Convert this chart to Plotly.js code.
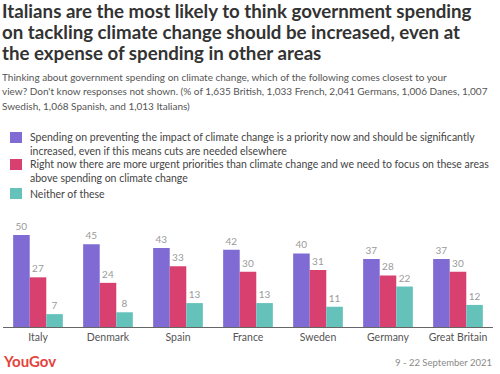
<!DOCTYPE html>
<html>
<head>
<meta charset="utf-8">
<script src="https://cdn.plot.ly/plotly-3.0.1.min.js"></script>
<style>html,body{margin:0;padding:0;background:#fff}#chart{width:500px;height:374px}</style>
</head>
<body>
<div id="chart"></div>
<script>
const countries = ["Italy", "Denmark", "Spain", "France", "Sweden", "Germany", "Great Britain"];
const seriesNames = [
  "Spending on preventing the impact of climate change is a priority now and should be significantly<br>increased, even if this means cuts are needed elsewhere",
  "Right now there are more urgent priorities than climate change and we need to focus on these areas<br>above spending on climate change",
  "Neither of these"
];
const increaseSpending = [50, 45, 43, 42, 40, 37, 37];
const otherPriorities = [27, 24, 33, 30, 31, 28, 30];
const neither = [7, 8, 13, 13, 11, 22, 12];
const colors = ["#7f6bd3", "#d8416f", "#65c2bb"];

const titleLines = [
  "Italians are the most likely to think government spending",
  "on tackling climate change should be increased, even at",
  "the expense of spending in other areas"
];
const subtitleLines = [
  "Thinking about government spending on climate change, which of the following comes closest to your",
  "view? Don't know responses not shown. (% of 1,635 British, 1,033 French, 2,041 Germans, 1,006 Danes, 1,007",
  "Swedish, 1,068 Spanish, and 1,013 Italians)"
];
const dateText = "9 - 22 September 2021";
const brand = "YouGov";

const FONT = "Lato, 'Open Sans', sans-serif";
const L = 3, R = 7, T = 215, B = 47, W = 500 - L - R, H = 374 - T - B;
const px = x => (x - L) / W;
const py = y => (374 - B - y) / H;

const values = [increaseSpending, otherPriorities, neither];
const traces = values.map((v, i) => ({
  type: "bar",
  name: seriesNames[i].replace("<br>", " "),
  x: countries,
  y: v,
  marker: {color: colors[i]},
  text: v.map(String),
  textposition: "outside",
  cliponaxis: false,
  textfont: {family: FONT, size: 10, color: "#9a9a9a"},
  hoverinfo: "none",
  showlegend: false
}));

const annotations = [];
const shapes = [];
titleLines.forEach((t, i) => annotations.push({
  text: t, xref: "paper", yref: "paper", x: px(0), y: py(11 + 21 * i),
  xanchor: "left", yanchor: "middle", showarrow: false,
  font: {family: FONT, size: 18.7, color: "#333333", weight: 700}
}));
subtitleLines.forEach((t, i) => annotations.push({
  text: t, xref: "paper", yref: "paper", x: px(0), y: py(77 + 14.5 * i),
  xanchor: "left", yanchor: "middle", showarrow: false,
  font: {family: FONT, size: 10, color: "#555555"}
}));

// legend (squares + wrapped labels)
const legendTops = [132, 159, 188];
const LEG_SIZE = 10.5, LEG_LH = LEG_SIZE * 1.3;
seriesNames.forEach((name, i) => {
  const top = legendTops[i];
  const nLines = name.split("<br>").length;
  shapes.push({
    type: "rect", xref: "paper", yref: "paper",
    x0: px(10), x1: px(22), y0: py(top + 11), y1: py(top),
    fillcolor: colors[i], line: {width: 0}
  });
  annotations.push({
    text: name, xref: "paper", yref: "paper", x: px(28),
    y: py(top + 5.5 + (nLines - 1) * LEG_LH / 2),
    xanchor: "left", yanchor: "middle", align: "left", showarrow: false,
    font: {family: FONT, size: LEG_SIZE, color: "#444444"}
  });
});

annotations.push({
  text: brand, xref: "paper", yref: "paper", x: px(1), y: py(361),
  xanchor: "left", yanchor: "middle", showarrow: false,
  font: {family: FONT, size: 15, color: "#e5423c", weight: 700}
});
annotations.push({
  text: dateText, xref: "paper", yref: "paper", x: px(494), y: py(362),
  xanchor: "right", yanchor: "middle", showarrow: false,
  font: {family: FONT, size: 9.5, color: "#8a8a8a"}
});

const layout = {
  width: 500, height: 374,
  margin: {l: L, r: R, t: T, b: B, pad: 0},
  paper_bgcolor: "#ffffff", plot_bgcolor: "#ffffff",
  barmode: "group", bargap: 0.29, bargroupgap: 0,
  font: {family: FONT},
  showlegend: false,
  xaxis: {
    type: "category", range: [-0.5, 6.5], showgrid: false, zeroline: false,
    showline: true, linecolor: "#666666", linewidth: 1.2, ticks: "",
    tickfont: {family: FONT, size: 10.5, color: "#555555"}, fixedrange: true
  },
  yaxis: {
    range: [0, H / 1.84], visible: false, showgrid: false, zeroline: false, fixedrange: true
  },
  annotations: annotations,
  shapes: shapes
};

Plotly.newPlot("chart", traces, layout, {displayModeBar: false, staticPlot: true});
</script>
</body>
</html>
